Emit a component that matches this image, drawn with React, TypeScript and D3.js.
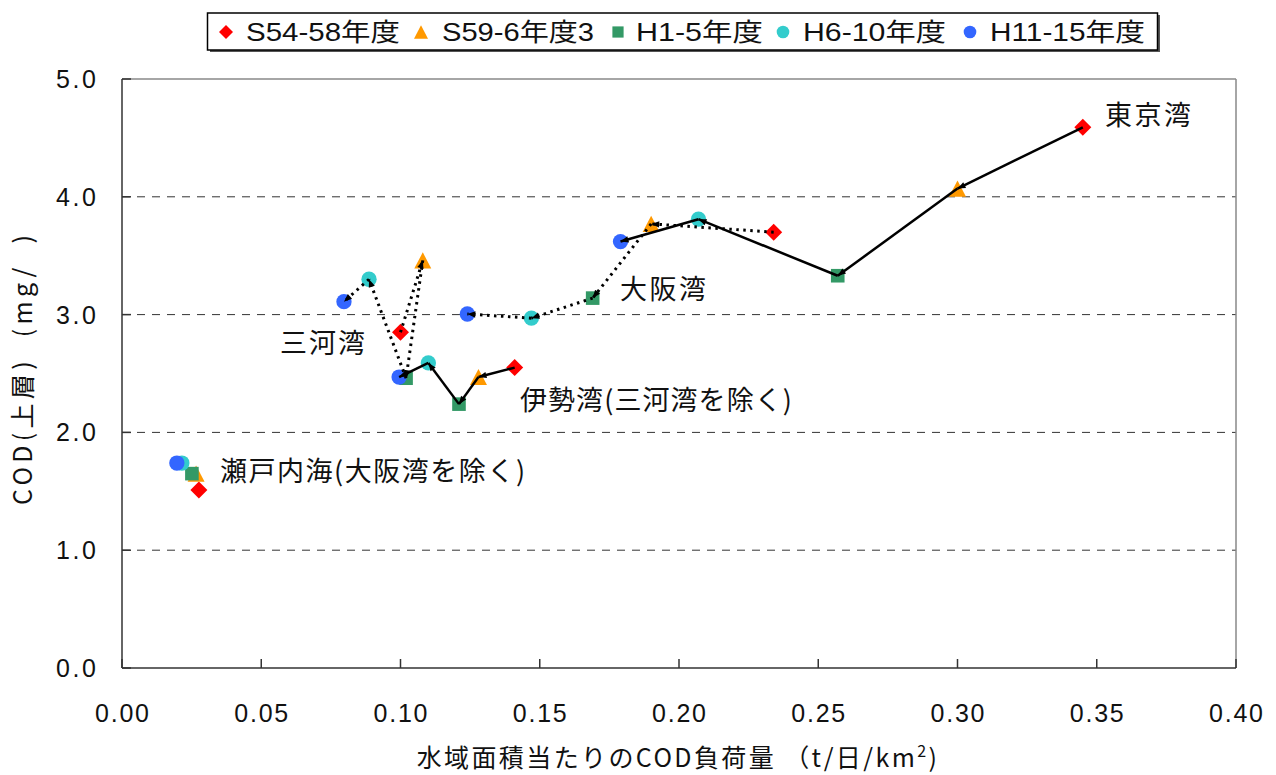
import * as d3 from "d3";

// periods (legend order) and bays
const periods = ["S54-58年度", "S59-6年度3", "H1-5年度", "H6-10年度", "H11-15年度"];
const bays = ["東京湾", "伊勢湾(三河湾を除く)", "三河湾", "大阪湾", "瀬戸内海(大阪湾を除く)"];

// COD load per water area (t/日/km2), bay order as above
const loadS5458 = [0.345, 0.141, 0.1, 0.234, 0.0276];
const loadS596 = [0.3, 0.128, 0.108, 0.19, 0.0266];
const loadH15 = [0.257, 0.121, 0.102, 0.169, 0.0251];
const loadH610 = [0.207, 0.11, 0.0887, 0.147, 0.0215];
const loadH1115 = [0.179, 0.0995, 0.0797, 0.124, 0.0197];

// COD (upper layer, mg/l)
const codS5458 = [4.59, 2.55, 2.85, 3.7, 1.51];
const codS596 = [4.07, 2.47, 3.46, 3.77, 1.65];
const codH15 = [3.33, 2.24, 2.46, 3.14, 1.65];
const codH610 = [3.81, 2.59, 3.3, 2.97, 1.74];
const codH1115 = [3.62, 2.47, 3.11, 3.005, 1.74];

const xTicks = [0, 0.05, 0.1, 0.15, 0.2, 0.25, 0.3, 0.35, 0.4];
const yTicks = [0, 1, 2, 3, 4, 5];

const loads = [loadS5458, loadS596, loadH15, loadH610, loadH1115];
const cods = [codS5458, codS596, codH15, codH610, codH1115];

const colors = ["#FF0000", "#FF9900", "#339966", "#33CCCC", "#3366FF"];
const shapes = ["diamond", "triangle", "square", "circle", "circle"];
const bayLine = ["solid", "solid", "dotted", "dotted", "none"];
// label anchor in data units, and drawn width
const labelAt: [number, number][] = [
  [0.353, 4.61],
  [0.1429, 2.19],
  [0.0567, 2.67],
  [0.1788, 3.13],
  [0.0352, 1.59],
];
const labelWidth = [86, 272, 85, 86, 305];

const W = 1276;
const H = 775;
const m = { left: 122, right: 1236, top: 79, bottom: 668 };
const latin = "'Liberation Sans', 'Noto Sans CJK JP', sans-serif";
const cjk = "'Noto Sans CJK JP', 'Liberation Sans', sans-serif";

const x = d3.scaleLinear().domain([0, 0.4]).range([m.left, m.right]);
const y = d3.scaleLinear().domain([0, 5]).range([m.bottom, m.top]);

function marker(shape: string, cx: number, cy: number, s: number, fill: string, key: string) {
  if (shape === "diamond") {
    return <path key={key} d={`M${cx},${cy - s}L${cx + s},${cy}L${cx},${cy + s}L${cx - s},${cy}Z`} fill={fill} />;
  }
  if (shape === "triangle") {
    const h = s * 0.95;
    return <path key={key} d={`M${cx},${cy - h}L${cx + s},${cy + h}L${cx - s},${cy + h}Z`} fill={fill} />;
  }
  if (shape === "square") {
    const h = s * 0.8;
    return <rect key={key} x={cx - h} y={cy - h} width={2 * h} height={2 * h} fill={fill} />;
  }
  return <circle key={key} cx={cx} cy={cy} r={s * 0.9} fill={fill} />;
}

const legendItems = [
  { mx: 226, tx: 246, tw: 154 },
  { mx: 421, tx: 442, tw: 152 },
  { mx: 618, tx: 636, tw: 127 },
  { mx: 783, tx: 803, tw: 143 },
  { mx: 970, tx: 990, tw: 155 },
];

export default function App() {
  return (
    <svg width={W} height={H} style={{ position: "absolute", left: 0, top: 0, background: "#fff" }}>
      <defs>
        <marker id="arr" viewBox="0 0 10 10" refX="10" refY="5" markerWidth="9" markerHeight="8"
          markerUnits="userSpaceOnUse" orient="auto">
          <path d="M0,1L10,5L0,9Z" fill="#000" />
        </marker>
      </defs>
      <rect x={0} y={0} width={W} height={H} fill="#fff" />

      {/* grid */}
      {yTicks.filter((t) => t > 0 && t < 5).map((t) => (
        <line key={"g" + t} x1={m.left} x2={m.right} y1={y(t)} y2={y(t)} stroke="#333" strokeWidth={1} strokeDasharray="8,7" />
      ))}
      {/* frame */}
      <line x1={m.left} x2={m.right} y1={m.top} y2={m.top} stroke="#888" strokeWidth={1.5} />
      <line x1={m.right} x2={m.right} y1={m.top} y2={m.bottom} stroke="#888" strokeWidth={1.5} />
      <line x1={m.left} x2={m.left} y1={m.top} y2={m.bottom} stroke="#333" strokeWidth={1.5} />
      <line x1={m.left} x2={m.right} y1={m.bottom} y2={m.bottom} stroke="#333" strokeWidth={1.5} />

      {/* ticks */}
      {yTicks.map((t) => (
        <g key={"yt" + t}>
          <line x1={m.left} x2={m.left + 9} y1={y(t)} y2={y(t)} stroke="#333" strokeWidth={1.5} />
          <text x={96} y={y(t)} dy="0.36em" textAnchor="end" fontFamily={latin} fontSize={25} fill="#111"
            textLength={40} lengthAdjust="spacing">
            {d3.format(".1f")(t)}
          </text>
        </g>
      ))}
      {xTicks.map((t) => (
        <g key={"xt" + t}>
          <line x1={x(t)} x2={x(t)} y1={m.bottom} y2={m.bottom - 9} stroke="#333" strokeWidth={1.5} />
          <text x={x(t)} y={722} textAnchor="middle" fontFamily={latin} fontSize={25} fill="#111"
            textLength={54} lengthAdjust="spacing">
            {d3.format(".2f")(t)}
          </text>
        </g>
      ))}

      {/* axis titles */}
      <text x={678} y={767} textAnchor="middle" fontFamily={cjk} fontSize={25} fill="#111"
        style={{ whiteSpace: "pre" }} letterSpacing={2.4}>
        {"水域面積当たりのCOD負荷量 （t/日/km"}
        <tspan dy={-10} fontSize={16}>2</tspan>
        <tspan dy={10}>)</tspan>
      </text>
      <text transform="translate(32,370) rotate(-90)" textAnchor="middle" fontFamily={cjk} fontSize={25} fill="#111"
        style={{ whiteSpace: "pre" }} textLength={270} lengthAdjust="spacing">
        {"COD(上層)  (mg/  )"}
      </text>

      {/* markers */}
      {periods.map((p, pi) =>
        bays.map((b, bi) =>
          marker(shapes[pi], x(loads[pi][bi]), y(cods[pi][bi]), 8.5, colors[pi], `m${pi}-${bi}`)
        )
      )}

      {/* trajectories */}
      {bays.map((b, bi) =>
        bayLine[bi] === "none"
          ? null
          : periods.slice(1).map((p, k) => (
              <line key={`l${bi}-${k}`}
                x1={x(loads[k][bi])} y1={y(cods[k][bi])}
                x2={x(loads[k + 1][bi])} y2={y(cods[k + 1][bi])}
                stroke="#000"
                strokeWidth={bayLine[bi] === "solid" ? 2.5 : 3}
                strokeDasharray={bayLine[bi] === "solid" ? undefined : "2.5,4.5"}
                markerEnd="url(#arr)" />
            ))
      )}

      {/* bay labels */}
      {bays.map((b, bi) => (
        <text key={"lb" + bi} x={x(labelAt[bi][0])} y={y(labelAt[bi][1])} fontFamily={cjk} fontSize={27} fill="#111"
          textLength={labelWidth[bi]} lengthAdjust="spacing">
          {b}
        </text>
      ))}

      {/* legend */}
      <rect x={210} y={15} width={950} height={37} fill="#555" />
      <rect x={207.5} y={13} width={950} height={37} fill="#fff" stroke="#000" strokeWidth={1.5} />
      {periods.map((p, pi) => (
        <g key={"lg" + pi}>
          {marker(shapes[pi], legendItems[pi].mx, 32, 7, colors[pi], "lm" + pi)}
          <text x={legendItems[pi].tx} y={32} dy="0.36em" fontFamily={latin} fontSize={25}
            textLength={legendItems[pi].tw} lengthAdjust="spacingAndGlyphs" fill="#111">
            {p}
          </text>
        </g>
      ))}
    </svg>
  );
}
